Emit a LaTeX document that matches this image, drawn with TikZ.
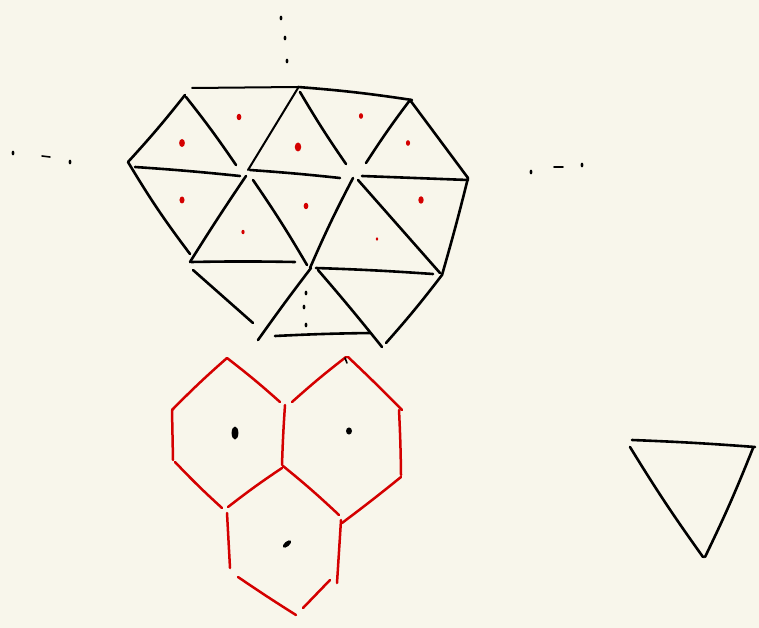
\documentclass[tikz,border=0pt]{standalone}
\usepackage{tikz}
\definecolor{paper}{RGB}{248,246,235}
\definecolor{inkred}{RGB}{212,0,0}

\begin{document}
\begin{tikzpicture}[
    x=1pt, y=-1pt,
    ink/.style={draw=black, line width=2.6pt, line cap=round, line join=round},
    redink/.style={draw=inkred, line width=2.5pt, line cap=round, line join=round},
    site/.style={fill=inkred},
    seed/.style={fill=black},
    gap/.style={fill=black},
]

% ── Paper ──
\fill[paper] (0,0) rectangle (759,628);
\useasboundingbox (0,0) rectangle (759,628);

% ── Triangle lattice: horizontal rows ──
\draw[ink, line width=2pt] (192,88) -- (298,87);
\draw[ink] (298,87) to[bend left=2] (412,100);
\draw[ink] (135,167) to[bend left=1] (240,176);
\draw[ink] (250,170) to[bend left=1] (340,178);
\draw[ink] (362,176) -- (468,180);
\draw[ink] (191,262) to[bend left=1] (295,262);
\draw[ink] (316,268) to[bend left=1] (433,274);
\draw[ink] (275,336) to[bend left=1] (370,333);

% ── Triangle lattice: slanted edges ──
\draw[ink] (185,95) to[bend left=2] (128,162);
\draw[ink] (186,97) to[bend left=2] (236,165);
\draw[ink, line width=2pt] (298,88) -- (248,170);
\draw[ink] (300,92) to[bend right=2] (346,164);
\draw[ink] (410,100) to[bend right=2] (366,163);
\draw[ink] (410,100) -- (468,178);
\draw[ink] (128,162) to[bend right=3] (190,254);
\draw[ink] (246,176) to[bend right=1] (190,262);
\draw[ink] (253,180) to[bend left=2] (307,265);
\draw[ink] (353,178) to[bend right=2] (310,268);
\draw[ink] (358,180) -- (440,273);
\draw[ink] (468,178) to[bend left=1] (442,275);
\draw[ink] (193,270) -- (253,323);
\draw[ink] (311,268) to[bend right=1] (258,340);
\draw[ink] (318,270) to[bend left=1] (382,347);
\draw[ink] (442,275) to[bend left=2] (386,343);

% ── Dotted continuations ──
\foreach \px/\py in {281/18, 285/38, 287/61, 13/153, 70/162,
                     531/172, 582/165, 306/293, 304/307, 306/325}
  \fill[gap] (\px,\py) ellipse (1.4 and 2.4);
\draw[ink, line width=1.6pt] (42,156) -- (50,157);
\draw[ink, line width=1.6pt] (554,167) -- (563,167);

% ── Red sites in the triangles ──
\foreach \px/\py/\r in {239/117/2.6, 182/143/3.2, 298/147/3.6, 361/116/2.3, 408/143/2.3,
                        182/200/2.8, 306/206/2.6, 243/232/1.8, 421/200/3, 377/239/1.5}
  \fill[site] (\px,\py) ellipse (\r*0.9 and \r*1.25);

% ── Red hexagonal cells ──
\draw[redink] (227,358) to[bend right=2] (172,410);
\draw[redink] (227,358) to[bend left=2] (280,402);
\draw[redink] (172,410) -- (173,460);
\draw[redink] (175,462) to[bend right=2] (222,508);
\draw[redink] (285,405) to[bend right=1] (282,465);
\draw[redink] (292,402) to[bend left=2] (346,357);
\draw[redink] (348,357) to[bend left=1] (402,410);
\draw[redink] (399,410) to[bend left=1] (401,475);
\draw[redink] (401,477) to[bend left=1] (342,523);
\draw[redink] (282,468) to[bend right=2] (228,507);
\draw[redink] (283,466) to[bend left=2] (339,515);
\draw[redink] (227,513) -- (230,568);
\draw[redink] (341,520) -- (337,583);
\draw[redink] (238,577) to[bend right=1] (296,615);
\draw[redink] (303,608) -- (330,580);

% ── Black seeds in the cells ──
\fill[seed] (235,433) ellipse (3.4 and 6.5);
\fill[seed] (349,431) ellipse (3 and 3.6);
\fill[seed, rotate around={40:(287,544)}] (287,544) ellipse (5 and 2.4);
\draw[ink, line width=1.6pt] (345,358) -- (347,363);

% ── Lone triangle ──
\draw[ink] (632,440) to[bend left=1] (755,447);
\draw[ink] (630,447) to[bend right=2] (703,557);
\draw[ink] (753,448) to[bend left=2] (705,557);

\end{tikzpicture}
\end{document}
